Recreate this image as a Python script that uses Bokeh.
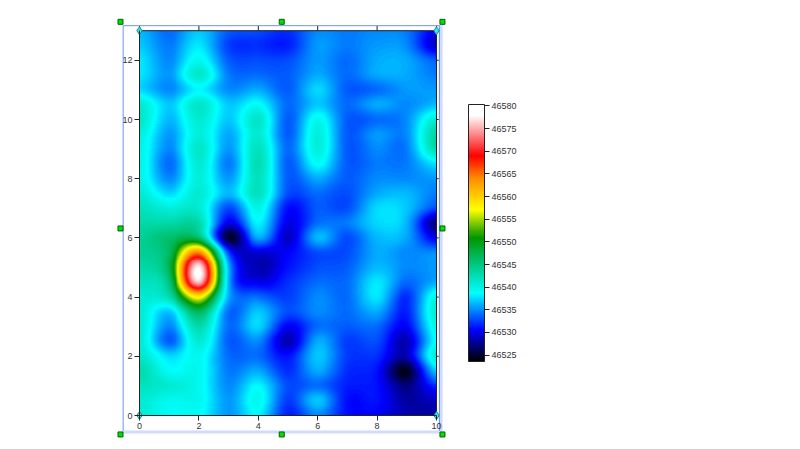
import numpy as np
from bokeh.embed import file_html
from bokeh.resources import INLINE
from bokeh.plotting import figure
from bokeh.models import (LinearAxis, FixedTicker, LinearColorMapper, ColorBar, Range1d, NumeralTickFormatter)

BASE = 46500
x_cols = list(range(0, 11))
# rows from y=13 down to y=0, in steps of 0.5 (value minus BASE)
y13_0 = [36.5, 34, 37, 33.5, 33, 32, 35, 34.5, 35, 34.5, 30]
y12_5 = [37, 34.5, 38, 32.5, 32, 31.5, 35.5, 34.5, 35.5, 35, 29]
y12_0 = [38, 35, 39.5, 33.5, 33, 33, 35.5, 34, 36, 36, 33.5]
y11_5 = [38, 35.5, 41.5, 34.5, 34, 33.5, 36, 34, 36, 36, 34.5]
y11_0 = [37.5, 35, 38.5, 35, 36, 33.5, 37.5, 33.5, 34, 35.5, 35.5]
y10_5 = [41, 37, 41.5, 37, 39, 34, 37, 34, 36, 35, 36.5]
y10_0 = [41.5, 36.5, 41, 37, 41.5, 33.5, 39.5, 33.5, 34, 35, 41]
y09_5 = [40.5, 35.5, 40.5, 36, 41, 33.5, 40.5, 33.5, 35.5, 35, 43.5]
y09_0 = [40, 35, 41.5, 35.5, 42, 34, 40.5, 33.5, 35, 34.5, 43]
y08_5 = [40, 34, 41, 34.5, 42.5, 33.5, 39, 33.5, 34.5, 34.5, 38]
y08_0 = [40, 35, 40.5, 35.5, 42, 33.5, 36, 33.5, 35, 35, 35.5]
y07_5 = [41, 37.5, 41, 36.5, 42, 33, 34, 33, 36, 36.5, 34.5]
y07_0 = [42, 40.5, 41, 33, 40, 31, 33.5, 33, 37.5, 37, 33]
y06_5 = [43, 43, 43, 30, 38.5, 30, 34, 34.5, 37.5, 36.5, 27]
y06_0 = [44, 46, 46, 25, 36, 29, 36.5, 33, 36.5, 36, 30]
y05_5 = [44, 47, 64, 32.5, 29.5, 30.5, 33, 33, 36, 35, 35]
y05_0 = [43, 48, 77, 36, 28.5, 31, 33, 33.5, 36.5, 35, 35.5]
y04_5 = [42, 46, 76, 36, 30, 32, 34, 34, 38, 34, 36]
y04_0 = [41, 43, 58, 36, 34, 32.5, 35, 34, 38, 32, 40]
y03_5 = [41, 37, 47, 34, 37, 33, 35, 34, 36, 31.5, 41]
y03_0 = [41, 35, 43, 34, 37.5, 30.5, 34, 33.5, 34, 30.5, 40]
y02_5 = [41, 33.5, 41, 33.5, 35, 28.5, 36, 32.5, 33, 28.5, 39]
y02_0 = [41.5, 37.5, 39.5, 34, 34, 31, 37, 32.5, 32, 28.5, 41]
y01_5 = [43, 39, 39.5, 34.5, 36, 32, 36, 32, 31, 24.5, 37]
y01_0 = [42, 41, 39.5, 35, 38.5, 33, 34, 31.5, 31, 27, 32]
y00_5 = [41, 39.5, 39.5, 35.5, 39.5, 32.5, 37, 31, 31, 28, 29]
y00_0 = [41, 39, 39, 35.5, 38.5, 31.5, 35, 31, 30.5, 28.5, 28]
rows_top_down = [y13_0, y12_5, y12_0, y11_5, y11_0, y10_5, y10_0, y09_5, y09_0, y08_5, y08_0,
                 y07_5, y07_0, y06_5, y06_0, y05_5, y05_0, y04_5, y04_0, y03_5, y03_0, y02_5,
                 y02_0, y01_5, y01_0, y00_5, y00_0]

x_ticks = [0, 2, 4, 6, 8, 10]
y_ticks = [0, 2, 4, 6, 8, 10, 12]
bar_ticks = [46525, 46530, 46535, 46540, 46545, 46550, 46555, 46560, 46565, 46570, 46575, 46580]
stop_values = [46523.6, 46530.5, 46538.7, 46545, 46551, 46557, 46564, 46569, 46578, 46580.3]
stop_colors = [(0, 0, 0), (0, 0, 255), (0, 255, 255), (0, 200, 130), (0, 150, 0), (255, 255, 0),
               (255, 140, 0), (255, 0, 0), (255, 255, 255), (255, 255, 255)]

handle_x = [-0.64, 4.79, 10.2]
handle_y = [13.3, 6.32, -0.64]
FONT = "Liberation Sans"
W, H = 784, 445


def smooth_for_display(a, axis, n):
    """Catmull-Rom resampling used only to paint the read grid as a continuous surface."""
    a = np.moveaxis(a, axis, 0)
    m = a.shape[0]
    t = np.linspace(0, m - 1, (m - 1) * n + 1)
    i = np.clip(t.astype(int), 0, m - 2)
    f = (t - i).reshape(-1, *([1] * (a.ndim - 1)))
    p0 = a[np.clip(i - 1, 0, m - 1)]
    p1 = a[i]
    p2 = a[i + 1]
    p3 = a[np.clip(i + 2, 0, m - 1)]
    r = 0.5 * (2 * p1 + (p2 - p0) * f + (2 * p0 - 5 * p1 + 4 * p2 - p3) * f ** 2
               + (3 * p1 - p0 - 3 * p2 + p3) * f ** 3)
    return np.moveaxis(r, 0, axis)


z = np.array(rows_top_down[::-1], dtype=float) + BASE
zi = smooth_for_display(smooth_for_display(z, 1, 30), 0, 15)

lv = np.linspace(stop_values[0], stop_values[-1], 256)
palette = ["#%02x%02x%02x" % tuple(int(round(np.interp(v, stop_values, [c[k] for c in stop_colors])))
                                   for k in range(3)) for v in lv]
mapper = LinearColorMapper(palette=palette, low=stop_values[0], high=stop_values[-1])

px_per_x, px_per_y = 29.7, 29.6
x0_px, y0_px = 139.0, 415.0  # position of (0,0) within the figure
p = figure(width=W, height=H, output_backend="svg", toolbar_location=None,
           x_range=Range1d(-x0_px / px_per_x, (W - x0_px) / px_per_x),
           y_range=Range1d(-(H - y0_px) / px_per_y, y0_px / px_per_y),
           x_axis_type=None, y_axis_type=None, min_border=0, outline_line_color=None)
p.grid.visible = False

p.image(image=[zi], x=0, y=0, dw=10, dh=13, color_mapper=mapper)


def mk_axis(ticks, fixed, bounds):
    return LinearAxis(ticker=FixedTicker(ticks=ticks), fixed_location=fixed, bounds=bounds,
                      axis_line_color="#222222", major_tick_line_color="#222222",
                      major_tick_in=0, major_tick_out=5, minor_tick_line_color=None,
                      major_label_text_font=FONT, major_label_text_font_size="9px",
                      major_label_text_color="#333333", major_label_standoff=2)


p.add_layout(mk_axis(y_ticks, 0, (0, 13)), "left")
p.add_layout(mk_axis(x_ticks, 0, (0, 10)), "below")

# frame edges with outward ticks on the unlabelled sides
p.line([10, 10], [0, 13], line_color="#222222")
p.line([0, 10], [13, 13], line_color="#222222")
p.segment(x0=[10] * len(y_ticks), y0=y_ticks, x1=[10.17] * len(y_ticks), y1=y_ticks, line_color="#222222")
p.segment(x0=x_ticks, y0=[13] * len(x_ticks), x1=x_ticks, y1=[13.17] * len(x_ticks), line_color="#222222")

# selection frame, its soft shadow and handles
p.line([handle_x[2] - 0.06] * 2, [13.2, -0.52], line_color="#cfdcff", line_width=4)
p.line([-0.56, 10.1], [-0.56, -0.56], line_color="#cfdcff", line_width=3)
p.line([-0.55, -0.55, 10.1, 10.1], [-0.52, 13.17, 13.17, -0.52], line_color="#6f94f5", line_width=1)
hx = [handle_x[0], handle_x[1], handle_x[2], handle_x[0], handle_x[2], handle_x[0], handle_x[1], handle_x[2]]
hy = [handle_y[0], handle_y[0], handle_y[0], handle_y[1], handle_y[1], handle_y[2], handle_y[2], handle_y[2]]
p.scatter(hx, hy, marker="square", size=5, fill_color="#00e000", line_color="#006000", line_width=1)
p.scatter([0, 10, 0, 10], [0, 0, 13, 13], marker="diamond", size=8, fill_color="#20f0f0",
          line_color="#308090", line_width=1)

cb = ColorBar(color_mapper=mapper, ticker=FixedTicker(ticks=bar_ticks),
              formatter=NumeralTickFormatter(format="0"), width=16, height=257,
              location=(468, H - 104 - 257), padding=0, margin=0, background_fill_color=None,
              bar_line_color="#222222", major_tick_in=0, major_tick_out=5,
              major_tick_line_color="#222222", minor_tick_line_color=None,
              major_label_text_font=FONT, major_label_text_font_size="9px",
              major_label_text_color="#333333", label_standoff=2, scale_alpha=1.0)
p.add_layout(cb, "center")

open("out.html", "w").write(file_html(p, INLINE))
